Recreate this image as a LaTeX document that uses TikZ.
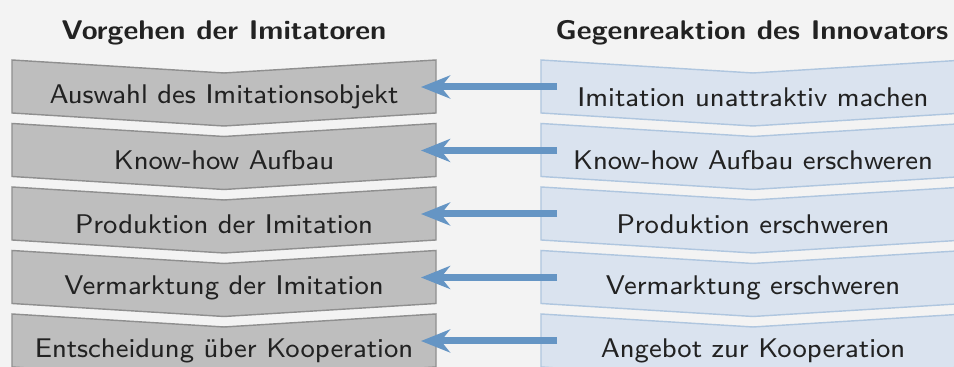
\documentclass[tikz,border=0pt]{standalone}
\usepackage{graphicx}
\usetikzlibrary{arrows.meta}
\definecolor{bgcol}{HTML}{F3F3F3}
\definecolor{grayfill}{HTML}{BEBEBE}
\definecolor{grayline}{HTML}{8F8F8F}
\definecolor{bluefill}{HTML}{DAE3EF}
\definecolor{blueline}{HTML}{AFC6DF}
\definecolor{arrowcol}{HTML}{6595C4}
\definecolor{textcol}{HTML}{222222}
% slightly widened bold heading text
\newcommand{\widehead}[1]{\scalebox{1.073}[1]{#1}}
\begin{document}
\begin{tikzpicture}[x=0.2963pt,y=-0.2963pt,
  label/.style={font=\sffamily\fontsize{8}{10}\selectfont, text=textcol, inner sep=0pt},
  head/.style={font=\sffamily\bfseries\fontsize{8}{10}\selectfont, text=textcol, inner sep=0pt, anchor=base},
  graystep/.style={fill=grayfill, draw=grayline, line width=0.42pt, line join=miter},
  bluestep/.style={fill=bluefill, draw=blueline, line width=0.42pt, line join=miter},
  counter/.style={draw=arrowcol, line width=2.07pt,
    -{Stealth[length=8.6pt, width=6.8pt, inset=2.7pt]}}]
  % canvas
  \fill[bgcol] (0,0) rectangle (954,367);
  \useasboundingbox (0,0) rectangle (954,367);

  % column headings
  \node[head] (hl) at (224,40) {\widehead{Vorgehen der Imitatoren}};
  \node[head] (hr) at (752,40) {\widehead{Gegenreaktion des Innovators}};

  % chevron steps, one pair per row
  \foreach \i/\ltext/\rtext in {
      0/Auswahl des Imitationsobjekt/Imitation unattraktiv machen,
      1/Know-how Aufbau/Know-how Aufbau erschweren,
      2/Produktion der Imitation/Produktion erschweren,
      3/Vermarktung der Imitation/Vermarktung erschweren,
      4/Entscheidung über Kooperation/Angebot zur Kooperation} {
    \pgfmathsetmacro{\t}{60+63.5*\i}
    \draw[graystep] (12,\t) -- (224,\t+13) -- (436,\t) -- (436,\t+53)
      -- (224,\t+66) -- (12,\t+53) -- cycle;
    \draw[bluestep] (541,\t) -- (753,\t+13) -- (965,\t) -- (965,\t+53)
      -- (753,\t+66) -- (541,\t+53) -- cycle;
    \node[label] (l\i) at (224,\t+37) {\ltext};
    \node[label] (r\i) at (753,\t+37) {\rtext};
    \coordinate (s\i) at (557,\t+27);
    \coordinate (e\i) at (421,\t+27);
    \draw[counter] (s\i) -- (e\i);
  }
\end{tikzpicture}
\end{document}
